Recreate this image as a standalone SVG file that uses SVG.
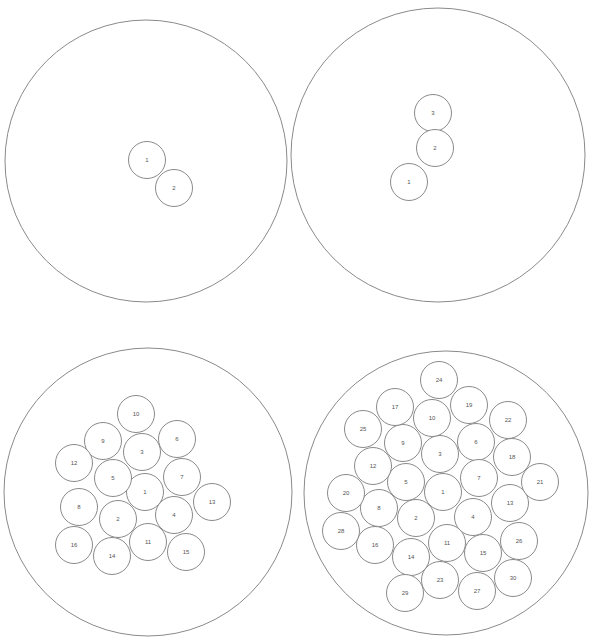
<svg xmlns="http://www.w3.org/2000/svg" width="590" height="639" viewBox="0 0 590 639">
<style>
.outer{fill:none;stroke:#8a8a8a;stroke-width:1}
.c{fill:#fff;stroke:#8a8a8a;stroke-width:1}
.t{font-family:"Liberation Sans",Arial,sans-serif;font-size:6px;fill:#555;text-anchor:middle;dominant-baseline:central}
</style>
<rect width="590" height="639" fill="#fff"/>
<defs>
<circle id="sc" r="18.5" class="c"/>
</defs>
<g id="outer-circles">
<circle id="container-a" class="outer" cx="146" cy="161" r="141"/>
<circle id="container-b" class="outer" cx="438" cy="155" r="147"/>
<circle id="container-c" class="outer" cx="148" cy="492" r="144"/>
<circle id="container-d" class="outer" cx="446" cy="493" r="142"/>
</g>
<g id="connectors"></g>
<g id="panel-a">
<g id="a1"><use href="#sc" x="147" y="160"/><text class="t" x="147" y="160">1</text></g>
<g id="a2"><use href="#sc" x="174" y="188"/><text class="t" x="174" y="188">2</text></g>
</g>
<g id="panel-b">
<g id="b3"><use href="#sc" x="433" y="113"/><text class="t" x="433" y="113">3</text></g>
<g id="b2"><use href="#sc" x="435" y="148"/><text class="t" x="435" y="148">2</text></g>
<g id="b1"><use href="#sc" x="409" y="182"/><text class="t" x="409" y="182">1</text></g>
</g>
<g id="panel-c">
<g id="c1"><use href="#sc" x="145" y="492"/><text class="t" x="145" y="492">1</text></g>
<g id="c2"><use href="#sc" x="118" y="519"/><text class="t" x="118" y="519">2</text></g>
<g id="c3"><use href="#sc" x="142" y="452"/><text class="t" x="142" y="452">3</text></g>
<g id="c4"><use href="#sc" x="174" y="515"/><text class="t" x="174" y="515">4</text></g>
<g id="c5"><use href="#sc" x="113" y="478"/><text class="t" x="113" y="478">5</text></g>
<g id="c6"><use href="#sc" x="177" y="439"/><text class="t" x="177" y="439">6</text></g>
<g id="c7"><use href="#sc" x="182" y="477"/><text class="t" x="182" y="477">7</text></g>
<g id="c8"><use href="#sc" x="79" y="507"/><text class="t" x="79" y="507">8</text></g>
<g id="c9"><use href="#sc" x="103" y="441"/><text class="t" x="103" y="441">9</text></g>
<g id="c10"><use href="#sc" x="136" y="414"/><text class="t" x="136" y="414">10</text></g>
<g id="c11"><use href="#sc" x="148" y="542"/><text class="t" x="148" y="542">11</text></g>
<g id="c12"><use href="#sc" x="74" y="463"/><text class="t" x="74" y="463">12</text></g>
<g id="c13"><use href="#sc" x="212" y="502"/><text class="t" x="212" y="502">13</text></g>
<g id="c14"><use href="#sc" x="112" y="556"/><text class="t" x="112" y="556">14</text></g>
<g id="c15"><use href="#sc" x="186" y="552"/><text class="t" x="186" y="552">15</text></g>
<g id="c16"><use href="#sc" x="74" y="545"/><text class="t" x="74" y="545">16</text></g>
</g>
<g id="panel-d">
<g id="d1"><use href="#sc" x="443" y="492"/><text class="t" x="443" y="492">1</text></g>
<g id="d2"><use href="#sc" x="416" y="518"/><text class="t" x="416" y="518">2</text></g>
<g id="d3"><use href="#sc" x="440" y="454"/><text class="t" x="440" y="454">3</text></g>
<g id="d4"><use href="#sc" x="473" y="517"/><text class="t" x="473" y="517">4</text></g>
<g id="d5"><use href="#sc" x="406" y="482"/><text class="t" x="406" y="482">5</text></g>
<g id="d6"><use href="#sc" x="476" y="442"/><text class="t" x="476" y="442">6</text></g>
<g id="d7"><use href="#sc" x="479" y="478"/><text class="t" x="479" y="478">7</text></g>
<g id="d8"><use href="#sc" x="379" y="508"/><text class="t" x="379" y="508">8</text></g>
<g id="d9"><use href="#sc" x="403" y="443"/><text class="t" x="403" y="443">9</text></g>
<g id="d10"><use href="#sc" x="432" y="418"/><text class="t" x="432" y="418">10</text></g>
<g id="d11"><use href="#sc" x="447" y="543"/><text class="t" x="447" y="543">11</text></g>
<g id="d12"><use href="#sc" x="373" y="466"/><text class="t" x="373" y="466">12</text></g>
<g id="d13"><use href="#sc" x="510" y="503"/><text class="t" x="510" y="503">13</text></g>
<g id="d14"><use href="#sc" x="411" y="557"/><text class="t" x="411" y="557">14</text></g>
<g id="d15"><use href="#sc" x="483" y="553"/><text class="t" x="483" y="553">15</text></g>
<g id="d16"><use href="#sc" x="375" y="545"/><text class="t" x="375" y="545">16</text></g>
<g id="d17"><use href="#sc" x="395" y="407"/><text class="t" x="395" y="407">17</text></g>
<g id="d18"><use href="#sc" x="512" y="457"/><text class="t" x="512" y="457">18</text></g>
<g id="d19"><use href="#sc" x="469" y="405"/><text class="t" x="469" y="405">19</text></g>
<g id="d20"><use href="#sc" x="346" y="493"/><text class="t" x="346" y="493">20</text></g>
<g id="d21"><use href="#sc" x="540" y="482"/><text class="t" x="540" y="482">21</text></g>
<g id="d22"><use href="#sc" x="508" y="420"/><text class="t" x="508" y="420">22</text></g>
<g id="d23"><use href="#sc" x="440" y="580"/><text class="t" x="440" y="580">23</text></g>
<g id="d24"><use href="#sc" x="439" y="380"/><text class="t" x="439" y="380">24</text></g>
<g id="d25"><use href="#sc" x="363" y="429"/><text class="t" x="363" y="429">25</text></g>
<g id="d26"><use href="#sc" x="519" y="541"/><text class="t" x="519" y="541">26</text></g>
<g id="d27"><use href="#sc" x="477" y="591"/><text class="t" x="477" y="591">27</text></g>
<g id="d28"><use href="#sc" x="341" y="531"/><text class="t" x="341" y="531">28</text></g>
<g id="d29"><use href="#sc" x="405" y="593"/><text class="t" x="405" y="593">29</text></g>
<g id="d30"><use href="#sc" x="513" y="578"/><text class="t" x="513" y="578">30</text></g>
</g>
</svg>
